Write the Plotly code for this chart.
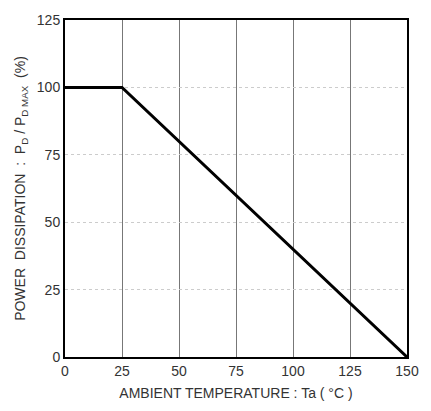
import plotly.graph_objects as go

temps = [0, 25, 150]
power = [100, 100, 0]
x_ticks = [0, 25, 50, 75, 100, 125, 150]
y_ticks = [0, 25, 50, 75, 100, 125]

fig = go.Figure()
fig.add_trace(go.Scatter(x=temps, y=power, mode="lines",
                         line=dict(color="black", width=3), showlegend=False))

fig.update_layout(
    width=431, height=411,
    margin=dict(l=65, r=15, t=12, b=52),
    plot_bgcolor="white", paper_bgcolor="white",
    font=dict(family="Liberation Sans, Arial, sans-serif", size=14, color="#333"),
)
fig.update_xaxes(
    range=[0, 150], tickvals=x_ticks, ticktext=[str(v) for v in x_ticks],
    showgrid=True, gridcolor="#777", gridwidth=1,
    showline=True, linecolor="black", linewidth=2, mirror=True,
    zeroline=False, ticks="", ticklen=0,
    title=dict(text="AMBIENT TEMPERATURE : Ta ( °C )", font=dict(size=14), standoff=10),
)
fig.update_yaxes(
    range=[0, 125], tickvals=y_ticks, ticktext=[str(v) for v in y_ticks],
    showgrid=True, gridcolor="#ccc", gridwidth=1, griddash="dot",
    showline=True, linecolor="black", linewidth=2, mirror=True,
    zeroline=False, ticks="", ticklen=0,
    title=dict(text="POWER  DISSIPATION  :  P<sub>D</sub> / P<sub>D MAX</sub>  (%)",
               font=dict(size=14), standoff=8),
)

fig.write_html("out.html")
